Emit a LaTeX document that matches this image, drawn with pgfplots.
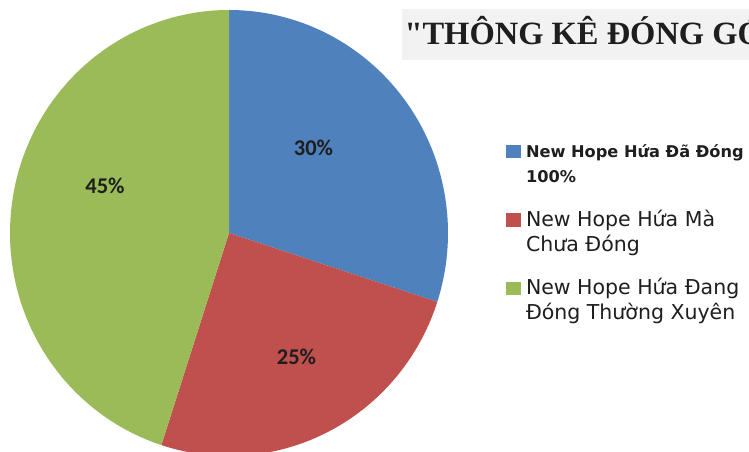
\documentclass[border=0pt]{standalone}
\usepackage{pgfplots}
\pgfplotsset{compat=1.18}
\usepackage{fontspec}
\setmainfont{DejaVu Sans}
\newfontfamily\titlefont{Liberation Serif}
\newfontfamily\labelfont{Carlito}
\definecolor{pieblue}{HTML}{4F81BD}
\definecolor{piered}{HTML}{C0504D}
\definecolor{piegreen}{HTML}{9BBB59}
\definecolor{titlebg}{HTML}{F2F2F2}
\definecolor{txt}{HTML}{1E1E1E}
% data (percent)
\def\va{30}
\def\vb{25}
\def\vc{45}
% pie geometry (pt)
\def\cx{229}
\def\cy{219}
\def\rx{219}
\def\ry{223}
\pgfmathsetmacro\aA{90}
\pgfmathsetmacro\aB{\aA-3.6*\va}
\pgfmathsetmacro\aC{\aB-3.6*\vb}
\pgfmathsetmacro\aD{\aC-3.6*\vc}
\begin{document}
\begin{tikzpicture}[x=1pt,y=1pt]
\useasboundingbox (0,0) rectangle (749,452);
\begin{scope}
\clip (0,0) rectangle (749,452);
\begin{axis}[
  at={(0,0)}, anchor=south west,
  scale only axis, width=749pt, height=452pt,
  xmin=0, xmax=749, ymin=0, ymax=452,
  hide axis, clip=false,
  legend image code/.code={\fill[#1] (0pt,7pt) rectangle (14.5pt,20.5pt);},
  legend cell align=left,
  legend style={at={(axis cs:506,311.8)}, anchor=north west, draw=none, fill=none,
    inner sep=0pt, outer sep=0pt, column sep=5.5pt, row sep=18.65pt,
    nodes={inner sep=0pt, outer sep=0pt, text=txt, text height=17.5pt, text depth=32.5pt}},
]
\addplot[fill=pieblue, draw=none, domain=\aB:\aA, samples=120, variable=\t]
  ({\cx+\rx*cos(\t)},{\cy+\ry*sin(\t)}) -- (axis cs:\cx,\cy) -- cycle;
\addlegendentry{\fontsize{16.2}{25}\selectfont\bfseries\begin{tabular}[t]{@{}l@{}}New Hope Hứa Đã Đóng\\100\%\end{tabular}}
\addplot[fill=piered, draw=none, domain=\aC:\aB, samples=120, variable=\t]
  ({\cx+\rx*cos(\t)},{\cy+\ry*sin(\t)}) -- (axis cs:\cx,\cy) -- cycle;
\addlegendentry{\fontsize{20.5}{25}\selectfont\begin{tabular}[t]{@{}l@{}}New Hope Hứa Mà\\Chưa Đóng\end{tabular}}
\addplot[fill=piegreen, draw=none, domain=\aD:\aC, samples=160, variable=\t]
  ({\cx+\rx*cos(\t)},{\cy+\ry*sin(\t)}) -- (axis cs:\cx,\cy) -- cycle;
\addlegendentry{\fontsize{20.5}{25}\selectfont\begin{tabular}[t]{@{}l@{}}New Hope Hứa Đang\\Đóng Thường Xuyên\end{tabular}}
\node[font=\labelfont\bfseries\fontsize{22.5}{26}\selectfont, text=txt] at (axis cs:313.5,304) {30\%};
\node[font=\labelfont\bfseries\fontsize{22.5}{26}\selectfont, text=txt] at (axis cs:296.5,95) {25\%};
\node[font=\labelfont\bfseries\fontsize{22.5}{26}\selectfont, text=txt] at (axis cs:105,266) {45\%};
\end{axis}
\fill[titlebg] (401.7,392) rectangle (760,442.7);
\node[anchor=base west, inner sep=0pt, text=txt, font=\titlefont\bfseries\fontsize{32.5}{38}\selectfont] at (404.3,407) {"THÔNG KÊ ĐÓNG GÓP"};
\end{scope}
\end{tikzpicture}
\end{document}
